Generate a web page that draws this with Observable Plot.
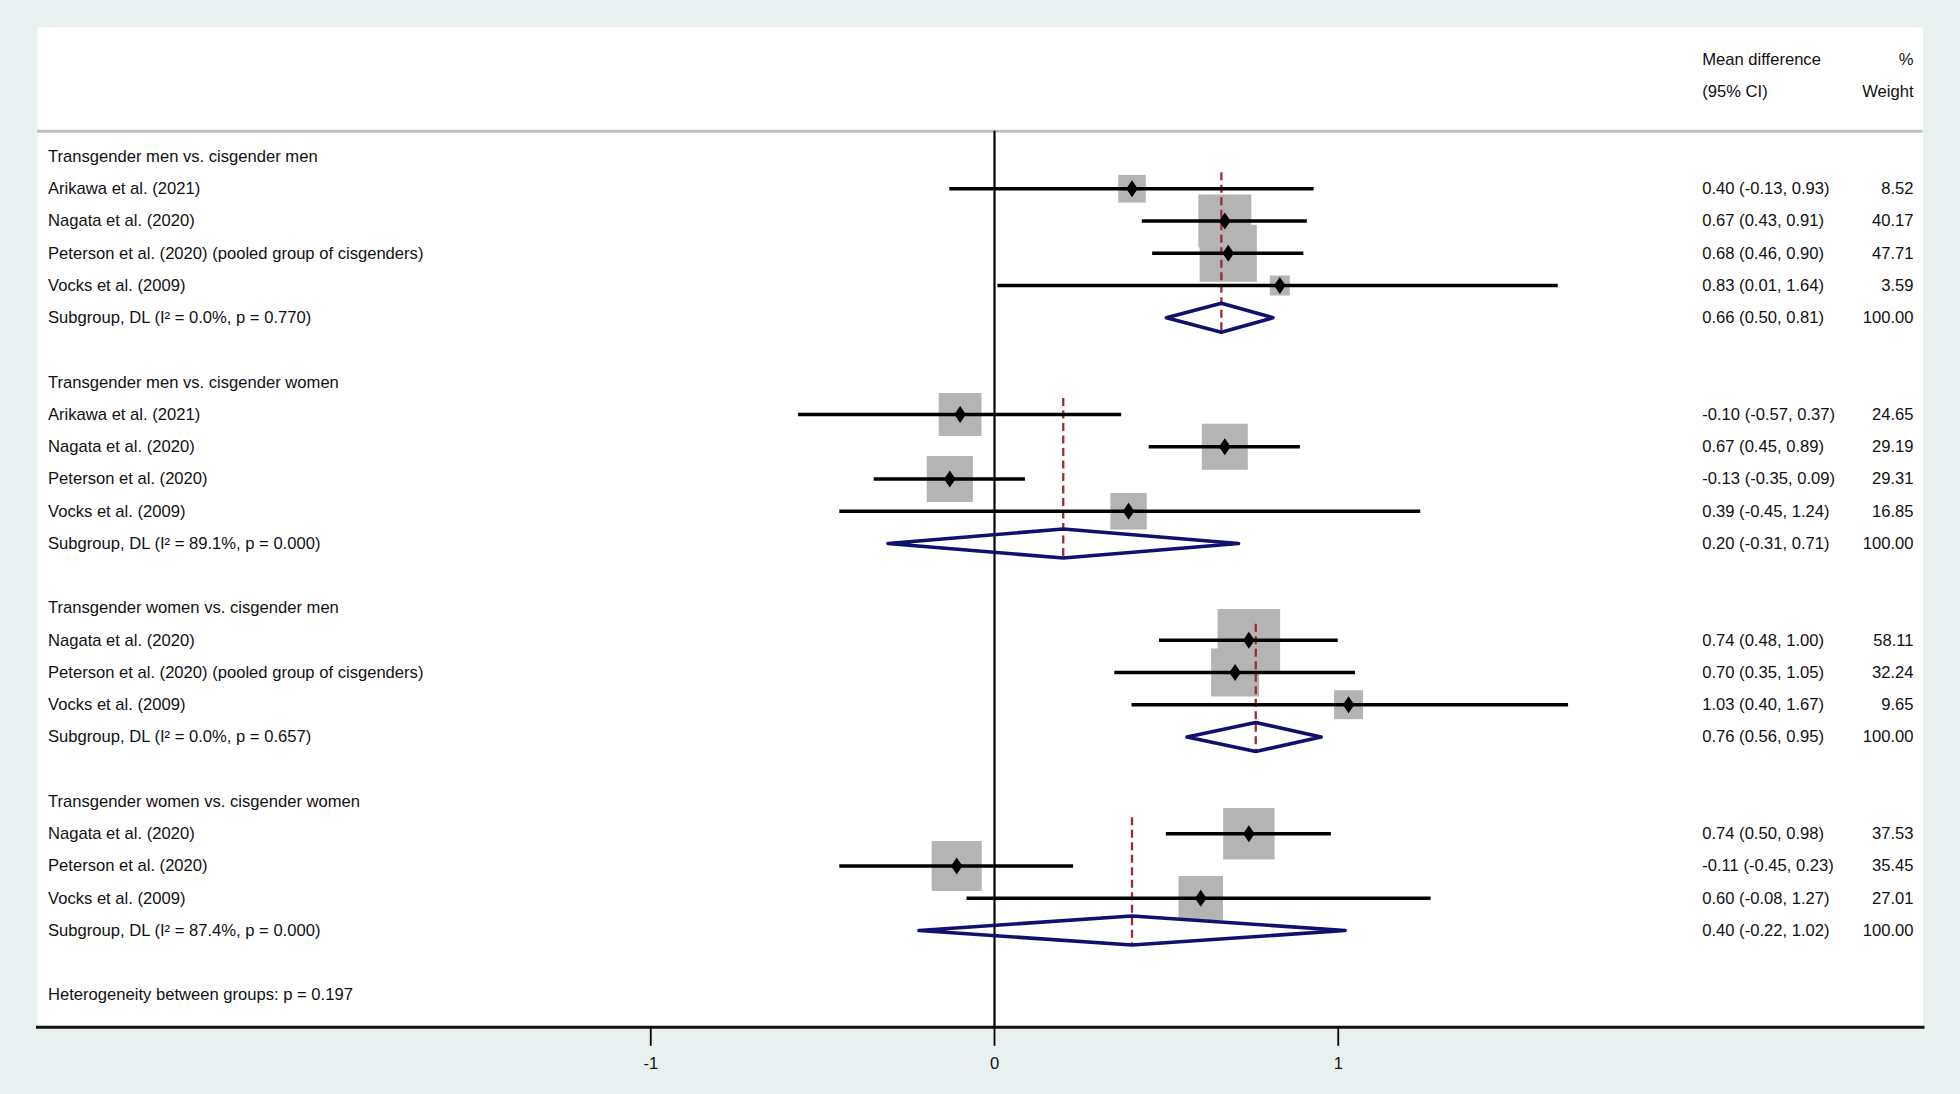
<!DOCTYPE html>
<html>
<head>
<meta charset="utf-8">
<script src="https://cdn.jsdelivr.net/npm/d3@7"></script>
<script src="https://cdn.jsdelivr.net/npm/@observablehq/plot@0.6"></script>
<style>
  html, body { margin: 0; padding: 0; background: #e8f1f0; }
  #chart svg { display: block; }
</style>
</head>
<body>
<div id="chart"></div>
<script>
// ---------------- data ----------------
const groupTitles = [
  "Transgender men vs. cisgender men",
  "Transgender men vs. cisgender women",
  "Transgender women vs. cisgender men",
  "Transgender women vs. cisgender women"
];
const studyGroup = [0, 0, 0, 0, 1, 1, 1, 1, 2, 2, 2, 3, 3, 3];
const studyNames = [
  "Arikawa et al. (2021)",
  "Nagata et al. (2020)",
  "Peterson et al. (2020) (pooled group of cisgenders)",
  "Vocks et al. (2009)",
  "Arikawa et al. (2021)",
  "Nagata et al. (2020)",
  "Peterson et al. (2020)",
  "Vocks et al. (2009)",
  "Nagata et al. (2020)",
  "Peterson et al. (2020) (pooled group of cisgenders)",
  "Vocks et al. (2009)",
  "Nagata et al. (2020)",
  "Peterson et al. (2020)",
  "Vocks et al. (2009)"
];
const studyEst = [0.40, 0.67, 0.68, 0.83, -0.10, 0.67, -0.13, 0.39, 0.74, 0.70, 1.03, 0.74, -0.11, 0.60];
const studyLo  = [-0.13, 0.43, 0.46, 0.01, -0.57, 0.45, -0.35, -0.45, 0.48, 0.35, 0.40, 0.50, -0.45, -0.08];
const studyHi  = [0.93, 0.91, 0.90, 1.64, 0.37, 0.89, 0.09, 1.24, 1.00, 1.05, 1.67, 0.98, 0.23, 1.27];
const studyWeight = [8.52, 40.17, 47.71, 3.59, 24.65, 29.19, 29.31, 16.85, 58.11, 32.24, 9.65, 37.53, 35.45, 27.01];

const subgroupLabels = [
  "Subgroup, DL (I\u00B2 = 0.0%, p = 0.770)",
  "Subgroup, DL (I\u00B2 = 89.1%, p = 0.000)",
  "Subgroup, DL (I\u00B2 = 0.0%, p = 0.657)",
  "Subgroup, DL (I\u00B2 = 87.4%, p = 0.000)"
];
const subEst = [0.66, 0.20, 0.76, 0.40];
const subLo  = [0.50, -0.31, 0.56, -0.22];
const subHi  = [0.81, 0.71, 0.95, 1.02];
const subWeight = [100.00, 100.00, 100.00, 100.00];

const heterogeneityLabel = "Heterogeneity between groups: p = 0.197";
const headerCI = ["Mean difference", "(95% CI)"];
const headerWeight = ["%", "Weight"];
const xTicks = [-1, 0, 1];

// ---------------- layout (rows) ----------------
const fmt = v => v.toFixed(2);
const titles = [], studies = [], subs = [];
let row = 0;
groupTitles.forEach((t, g) => {
  const titleRow = row;
  titles.push({label: t, row: row++});
  studyGroup.forEach((sg, i) => {
    if (sg !== g) return;
    studies.push({
      label: studyNames[i], row: row++, est: studyEst[i], lo: studyLo[i], hi: studyHi[i],
      weight: studyWeight[i],
      ci: `${fmt(studyEst[i])} (${fmt(studyLo[i])}, ${fmt(studyHi[i])})`,
      w: fmt(studyWeight[i])
    });
  });
  subs.push({
    label: subgroupLabels[g], row: row++, titleRow, est: subEst[g], lo: subLo[g], hi: subHi[g],
    ci: `${fmt(subEst[g])} (${fmt(subLo[g])}, ${fmt(subHi[g])})`,
    w: fmt(subWeight[g])
  });
  row++; // blank row
});
const hetRow = row;
const axisRow = hetRow + 1;
const topRow = -4;
const sepRow = -0.78;

const leftRows = [
  ...titles.map(d => ({label: d.label, row: d.row})),
  ...studies.map(d => ({label: d.label, row: d.row})),
  ...subs.map(d => ({label: d.label, row: d.row})),
  {label: heterogeneityLabel, row: hetRow}
];
const ciRows = [
  {label: headerCI[0], row: -3}, {label: headerCI[1], row: -2},
  ...studies.map(d => ({label: d.ci, row: d.row})),
  ...subs.map(d => ({label: d.ci, row: d.row}))
];
const wRows = [
  {label: headerWeight[0], row: -3}, {label: headerWeight[1], row: -2},
  ...studies.map(d => ({label: d.w, row: d.row})),
  ...subs.map(d => ({label: d.w, row: d.row}))
];

// subgroup diamonds
const dh = 0.45;
const diamondPts = [];
subs.forEach((d, g) => {
  diamondPts.push(
    {g, x: d.est, y: d.row - dh},
    {g, x: d.hi, y: d.row},
    {g, x: d.est, y: d.row + dh},
    {g, x: d.lo, y: d.row},
    {g, x: d.est, y: d.row - dh}
  );
});

// ---------------- geometry ----------------
const W = 1960, H = 1094;
const mLeft = 37, mRight = 37.5, mTop = 27;
const rowPx = 32.25;
const mBottom = H - (mTop + (axisRow - topRow) * rowPx);
const zeroPx = 994, unitPx = 343.75;
const xDomain = [(mLeft - zeroPx) / unitPx, (W - mRight - zeroPx) / unitPx];

const markerDiamond = {
  draw(ctx) {
    const w = 5.8, h = 8.6;
    ctx.moveTo(0, -h); ctx.lineTo(w, 0); ctx.lineTo(0, h); ctx.lineTo(-w, 0); ctx.closePath();
  }
};

const navy = "#10106e";
const red = "#9e2a38";
const textColor = "#111";

const chart = Plot.plot({
  width: W, height: H,
  marginLeft: mLeft, marginRight: mRight, marginTop: mTop, marginBottom: mBottom,
  style: {fontFamily: "'Liberation Sans', Arial, sans-serif", fontSize: "16.6px", background: "#e8f1f0", color: "black"},
  x: {domain: xDomain, axis: null},
  y: {domain: [topRow, axisRow], reverse: true, axis: null},
  r: {type: "sqrt", domain: [0, 100], range: [3.35, 45.2]},
  marks: [
    Plot.frame({fill: "white", stroke: "none"}),
    Plot.ruleY([sepRow], {stroke: "#c0c0c0", strokeWidth: 3}),
    Plot.ruleX([0], {y1: sepRow, y2: axisRow, stroke: "black", strokeWidth: 2.2}),
    Plot.dot(studies, {x: "est", y: "row", r: "weight", symbol: "square", fill: "#b4b4b4", stroke: "none"}),
    Plot.ruleX(subs, {x: "est", y1: d => d.titleRow + 0.5, y2: d => d.row + 0.47, stroke: red, strokeWidth: 2.3, strokeDasharray: "8,4.5"}),
    Plot.ruleY(studies, {y: "row", x1: "lo", x2: "hi", stroke: "black", strokeWidth: 3.6}),
    Plot.dot(studies, {x: "est", y: "row", r: 1, symbol: markerDiamond, fill: "black", stroke: "none"}),
    Plot.line(diamondPts, {x: "x", y: "y", z: "g", stroke: navy, strokeWidth: 3.6, strokeLinejoin: "round", strokeLinecap: "round"}),
    Plot.text(leftRows, {y: "row", text: "label", frameAnchor: "left", dx: 10.5, textAnchor: "start", fill: textColor}),
    Plot.text(ciRows, {y: "row", text: "label", frameAnchor: "right", dx: -220.8, textAnchor: "start", fill: textColor}),
    Plot.text(wRows, {y: "row", text: "label", frameAnchor: "right", dx: -9.5, textAnchor: "end", fill: textColor}),
    Plot.frame({anchor: "bottom", stroke: "#111", strokeWidth: 3}),
    Plot.axisX({ticks: xTicks, tickFormat: d => d.toString(), tickSize: 19, tickPadding: 10.5, strokeWidth: 1.8, label: null, fontSize: 16.6, fill: textColor})
  ]
});
document.getElementById("chart").appendChild(chart);
</script>
</body>
</html>
